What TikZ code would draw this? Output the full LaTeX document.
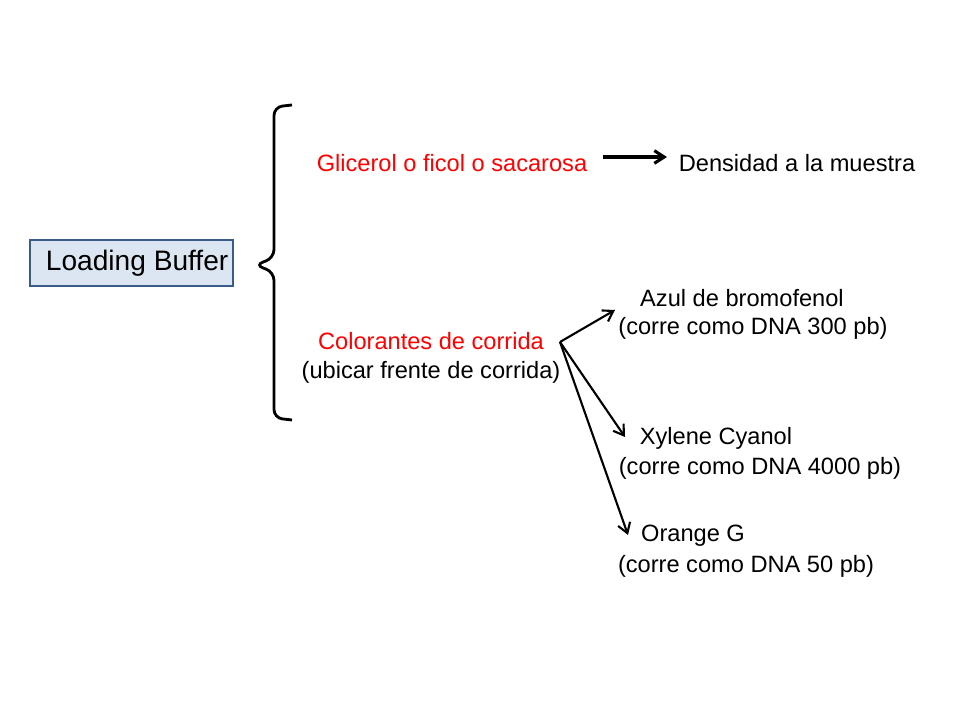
\documentclass[tikz,border=0pt]{standalone}
\usepackage{fontspec}
\setmainfont{Liberation Sans}
\usetikzlibrary{arrows.meta}
\definecolor{boxfill}{HTML}{DCE6F2}
\definecolor{boxline}{HTML}{385D8A}
\definecolor{rojo}{HTML}{FF0000}
\begin{document}
\begin{tikzpicture}[x=0.025cm,y=-0.025cm,
texto/.style={inner sep=1pt,font=\fontsize{16.8}{20}\selectfont},
rojo/.style={texto,text=rojo},
caja/.style={draw=boxline,line width=1.3pt,fill=boxfill,minimum width=5.08cm,minimum height=1.15cm,font=\fontsize{20}{24}\selectfont},
flecha/.style={-{Straight Barb[length=7pt,width=9pt]},line width=1.5pt}
]
\useasboundingbox (0,0) rectangle (960,720);

% caja principal
\node[caja] (buffer) at (131.5,263) {\hspace{8pt}Loading Buffer};

% llave
\draw[line width=2pt,rounded corners=6pt] (292,105) -- (274,107) -- (274,258) -- (255,265) -- (274,272) -- (274,418) -- (292,420);

% ramas
\node[rojo] (glicerol) at (452,163) {Glicerol o ficol o sacarosa};
\node[texto] (densidad) at (797,163) {Densidad a la muestra};
\draw[flecha,line width=2.2pt] (603,157) -- (667,157);

\node[rojo] (colorantes) at (431,341) {Colorantes de corrida};
\node[texto] (ubicar) at (431,372) {(ubicar frente de corrida)};
\coordinate (origen) at (560,342);

\node[texto] (azul) at (742,298) {Azul de bromofenol};
\node[texto] (azul2) at (753,328) {(corre como DNA 300 pb)};
\node[texto] (xylene) at (716,438) {Xylene Cyanol};
\node[texto] (xylene2) at (760,468) {(corre como DNA 4000 pb)};
\node[texto] (orange) at (693,536) {Orange G};
\node[texto] (orange2) at (746,566) {(corre como DNA 50 pb)};

\draw[flecha] (origen) -- (615,310);
\draw[flecha] (origen) -- (625,437);
\draw[flecha] (origen) -- (628,535);
\end{tikzpicture}
\end{document}
